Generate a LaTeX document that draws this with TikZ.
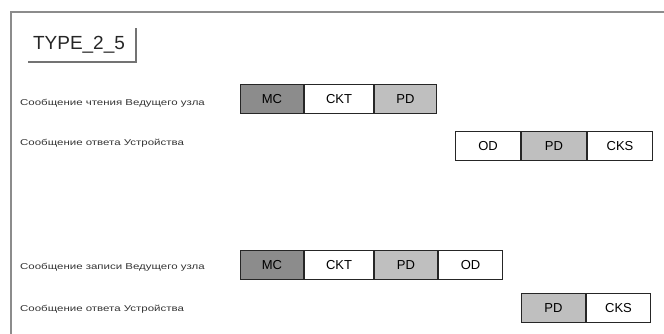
\documentclass[tikz,border=0pt]{standalone}
\usepackage{fontspec}
\setmainfont{Liberation Sans}
\newfontfamily\lblfont[FakeStretch=1.35]{Liberation Sans}
\begin{document}
\begin{tikzpicture}[x=1pt,y=-1pt,
  lbl/.style={anchor=west,inner sep=0pt,font=\lblfont\fontsize{8.5}{10}\selectfont,text=black!80},
  fld/.style={draw=black!85,line width=1pt,minimum height=29pt,inner sep=0pt,font=\fontsize{13}{15}\selectfont,anchor=west},
  mc/.style={fld,fill=black!45},
  pd/.style={fld,fill=black!25},
  plain/.style={fld,fill=white}]
\useasboundingbox (0,0) rectangle (664,334);
% frame
\draw[black!45,line width=1.2pt] (11,334) -- (11,12) -- (664,12);
% title
\node[anchor=center,inner sep=0pt,font=\fontsize{19}{21}\selectfont,text=black!85] (title) at (79,45) {TYPE\_2\_5};
\draw[black!55,line width=2pt] (28,62) -- (136,62) -- (136,28);
% row 1
\node[lbl] (l1) at (20,103) {Сообщение чтения Ведущего узла};
\node[mc,minimum width=63pt] (mc1) at (240,99) {MC};
\node[plain,minimum width=69pt] (ckt1) at (mc1.east) {CKT};
\node[pd,minimum width=62pt] (pd1) at (ckt1.east) {PD};
% row 2
\node[lbl] (l2) at (20,143) {Сообщение ответа Устройства};
\node[plain,minimum width=65pt] (od2) at (455,146) {OD};
\node[pd,minimum width=65pt] (pd2) at (od2.east) {PD};
\node[plain,minimum width=65pt] (cks2) at (pd2.east) {CKS};
% row 3
\node[lbl] (l3) at (20,267) {Сообщение записи Ведущего узла};
\node[mc,minimum width=63pt] (mc3) at (240,265) {MC};
\node[plain,minimum width=69pt] (ckt3) at (mc3.east) {CKT};
\node[pd,minimum width=63pt] (pd3) at (ckt3.east) {PD};
\node[plain,minimum width=64pt] (od3) at (pd3.east) {OD};
% row 4
\node[lbl] (l4) at (20,309) {Сообщение ответа Устройства};
\node[pd,minimum width=64pt] (pd4) at (521,308) {PD};
\node[plain,minimum width=64pt] (cks4) at (pd4.east) {CKS};
\end{tikzpicture}
\end{document}
